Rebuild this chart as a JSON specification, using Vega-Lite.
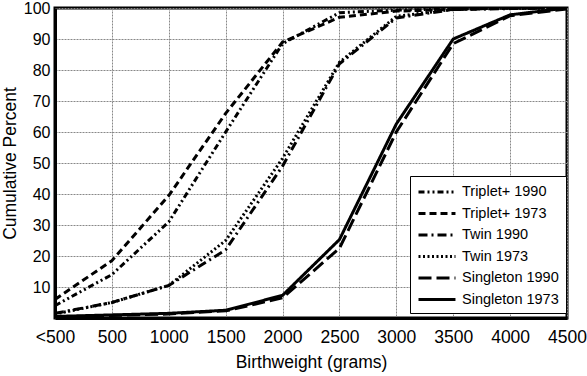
{
  "$schema": "https://vega.github.io/schema/vega-lite/v6.json",
  "width": 512,
  "height": 310,
  "autosize": {"type": "none"},
  "padding": {"left": 55, "top": 8, "right": 20, "bottom": 58},
  "background": "white",
  "config": {
    "font": "Liberation Sans",
    "view": {"stroke": "black", "strokeWidth": 3},
    "axis": {
      "labelFont": "Liberation Sans",
      "titleFont": "Liberation Sans",
      "labelColor": "black",
      "titleColor": "black",
      "titleFontWeight": "normal",
      "titleFontSize": 17.5,
      "gridColor": "#888",
      "gridWidth": 1,
      "gridDash": [2, 1],
      "domainColor": "black",
      "domainWidth": 3,
      "ticks": false
    },
    "legend": {
      "labelFont": "Liberation Sans",
      "labelFontSize": 14.5,
      "labelColor": "black"
    }
  },
  "data": {
    "values": [
      {"series": "Triplet+ 1990", "weight": 0, "pct": 4},
      {"series": "Triplet+ 1990", "weight": 500, "pct": 14},
      {"series": "Triplet+ 1990", "weight": 1000, "pct": 31},
      {"series": "Triplet+ 1990", "weight": 1500, "pct": 60},
      {"series": "Triplet+ 1990", "weight": 2000, "pct": 88.5},
      {"series": "Triplet+ 1990", "weight": 2500, "pct": 98.5},
      {"series": "Triplet+ 1990", "weight": 3000, "pct": 99.3},
      {"series": "Triplet+ 1990", "weight": 3500, "pct": 99.7},
      {"series": "Triplet+ 1990", "weight": 4000, "pct": 100},
      {"series": "Triplet+ 1990", "weight": 4500, "pct": 100},
      {"series": "Triplet+ 1973", "weight": 0, "pct": 6},
      {"series": "Triplet+ 1973", "weight": 500, "pct": 18.5},
      {"series": "Triplet+ 1973", "weight": 1000, "pct": 39.5},
      {"series": "Triplet+ 1973", "weight": 1500, "pct": 66},
      {"series": "Triplet+ 1973", "weight": 2000, "pct": 89},
      {"series": "Triplet+ 1973", "weight": 2500, "pct": 97},
      {"series": "Triplet+ 1973", "weight": 3000, "pct": 99},
      {"series": "Triplet+ 1973", "weight": 3500, "pct": 99.5},
      {"series": "Triplet+ 1973", "weight": 4000, "pct": 100},
      {"series": "Triplet+ 1973", "weight": 4500, "pct": 100},
      {"series": "Twin 1990", "weight": 0, "pct": 1.5},
      {"series": "Twin 1990", "weight": 500, "pct": 5},
      {"series": "Twin 1990", "weight": 1000, "pct": 10.5},
      {"series": "Twin 1990", "weight": 1500, "pct": 22},
      {"series": "Twin 1990", "weight": 2000, "pct": 49},
      {"series": "Twin 1990", "weight": 2500, "pct": 82},
      {"series": "Twin 1990", "weight": 3000, "pct": 96.8},
      {"series": "Twin 1990", "weight": 3500, "pct": 99.5},
      {"series": "Twin 1990", "weight": 4000, "pct": 99.8},
      {"series": "Twin 1990", "weight": 4500, "pct": 100},
      {"series": "Twin 1973", "weight": 0, "pct": 1.3},
      {"series": "Twin 1973", "weight": 500, "pct": 5},
      {"series": "Twin 1973", "weight": 1000, "pct": 10.5},
      {"series": "Twin 1973", "weight": 1500, "pct": 25},
      {"series": "Twin 1973", "weight": 2000, "pct": 51.5},
      {"series": "Twin 1973", "weight": 2500, "pct": 82.5},
      {"series": "Twin 1973", "weight": 3000, "pct": 97.3},
      {"series": "Twin 1973", "weight": 3500, "pct": 99.6},
      {"series": "Twin 1973", "weight": 4000, "pct": 99.9},
      {"series": "Twin 1973", "weight": 4500, "pct": 100},
      {"series": "Singleton 1990", "weight": 0, "pct": 0.3},
      {"series": "Singleton 1990", "weight": 500, "pct": 0.8},
      {"series": "Singleton 1990", "weight": 1000, "pct": 1.3},
      {"series": "Singleton 1990", "weight": 1500, "pct": 2.3},
      {"series": "Singleton 1990", "weight": 2000, "pct": 6.5},
      {"series": "Singleton 1990", "weight": 2500, "pct": 22.5},
      {"series": "Singleton 1990", "weight": 3000, "pct": 60},
      {"series": "Singleton 1990", "weight": 3500, "pct": 88.5},
      {"series": "Singleton 1990", "weight": 4000, "pct": 97.5},
      {"series": "Singleton 1990", "weight": 4500, "pct": 99.7},
      {"series": "Singleton 1973", "weight": 0, "pct": 0.5},
      {"series": "Singleton 1973", "weight": 500, "pct": 1},
      {"series": "Singleton 1973", "weight": 1000, "pct": 1.5},
      {"series": "Singleton 1973", "weight": 1500, "pct": 2.5},
      {"series": "Singleton 1973", "weight": 2000, "pct": 7.3},
      {"series": "Singleton 1973", "weight": 2500, "pct": 25.3},
      {"series": "Singleton 1973", "weight": 3000, "pct": 62.6},
      {"series": "Singleton 1973", "weight": 3500, "pct": 90},
      {"series": "Singleton 1973", "weight": 4000, "pct": 97.8},
      {"series": "Singleton 1973", "weight": 4500, "pct": 100}
    ]
  },
  "mark": {"type": "line", "color": "black", "strokeWidth": 3, "clip": true},
  "encoding": {
    "x": {
      "field": "weight",
      "type": "quantitative",
      "scale": {"domain": [0, 4500], "nice": false, "zero": false},
      "axis": {
        "values": [0, 500, 1000, 1500, 2000, 2500, 3000, 3500, 4000, 4500],
        "format": "d",
        "labelExpr": "datum.value == 0 ? '<500' : datum.label",
        "labelFontSize": 17.5,
        "labelPadding": 10,
        "labelFlush": false,
        "title": "Birthweight (grams)",
        "titlePadding": 8
      }
    },
    "y": {
      "field": "pct",
      "type": "quantitative",
      "scale": {"domain": [0, 100], "nice": false},
      "axis": {
        "values": [10, 20, 30, 40, 50, 60, 70, 80, 90, 100],
        "labelFontSize": 16,
        "labelPadding": 5,
        "labelFlush": false,
        "title": "Cumulative Percent",
        "titleX": -40,
        "titleBaseline": "alphabetic"
      }
    },
    "strokeDash": {
      "field": "series",
      "type": "nominal",
      "scale": {
        "domain": ["Triplet+ 1990", "Triplet+ 1973", "Twin 1990", "Twin 1973", "Singleton 1990", "Singleton 1973"],
        "range": [[6, 3, 2, 3, 2, 3], [7, 4], [9, 4, 2, 4], [2, 2.5], [13, 5], [1, 0]]
      },
      "legend": {
        "title": null,
        "orient": "none",
        "legendX": 355,
        "legendY": 168,
        "fillColor": "white",
        "strokeColor": "black",
        "padding": 7,
        "rowPadding": 5.5,
        "symbolType": "M-1,0H3.93",
        "symbolSize": 225,
        "symbolStrokeWidth": 3,
        "symbolStrokeColor": "black",
        "symbolFillColor": "transparent",
        "labelOffset": 27
      }
    }
  }
}
